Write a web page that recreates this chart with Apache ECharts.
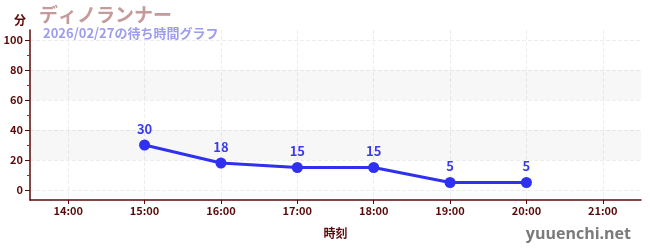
<!DOCTYPE html>
<html><head><meta charset="utf-8">
<script src="https://cdn.jsdelivr.net/npm/echarts@6/dist/echarts.min.js"></script>
<style>html,body{margin:0;padding:0;background:#fff}#c{width:650px;height:250px}</style>
</head><body><div id="c"></div>
<script>
const titleText = 'ディノランナー';
const subtitleText = '2026/02/27の待ち時間グラフ';
const hours = [15, 16, 17, 18, 19, 20];
const waits = [30, 18, 15, 15, 5, 5];
const xTicks = [14, 15, 16, 17, 18, 19, 20, 21];
const yTicks = [0, 20, 40, 60, 80, 100];
const yMinor = [10, 30, 50, 70, 90];

const FONT = '"Noto Sans CJK JP", "Noto Sans", sans-serif';
const AX = '#5a0a0a';
const YMIN = -20/3, YMAX = 320/3;
const chart = echarts.init(document.getElementById('c'), null, {renderer: 'canvas'});
chart.setOption({
  animation: false,
  textStyle: {fontFamily: FONT},
  title: [
    {text: titleText, left: 34, top: 0, textStyle: {color: '#c49a9a', fontSize: 19, fontWeight: 'bold', fontFamily: FONT}},
    {text: subtitleText, left: 38, top: 22, textStyle: {color: '#9d9dee', fontSize: 13, fontWeight: 'bold', fontFamily: FONT}},
    {text: 'yuuenchi.net', right: 14, bottom: 3, textStyle: {color: '#7a7a7a', fontSize: 16, fontWeight: 'bold', fontFamily: '"Open Sans", sans-serif'}}
  ],
  grid: {left: 30, right: 9, top: 30, bottom: 50, containLabel: false},
  xAxis: {
    type: 'value', min: 13.5, max: 21.5,
    name: '時刻', nameLocation: 'middle', nameGap: 27,
    nameTextStyle: {color: AX, fontSize: 12, fontWeight: 'bold'},
    axisLine: {show: true, onZero: false, lineStyle: {color: AX, width: 1.5}},
    axisTick: {show: true, customValues: xTicks, length: 4, lineStyle: {color: AX}},
    axisLabel: {customValues: xTicks, color: AX, fontSize: 11, fontWeight: 'bold', margin: 5, formatter: v => v + ':00'},
    splitLine: {show: true, customValues: xTicks, lineStyle: {color: '#eeeeee', type: 'dashed'}}
  },
  yAxis: [{
    type: 'value', min: YMIN, max: YMAX,
    name: '分', nameLocation: 'end', nameGap: 0,
    nameTextStyle: {color: AX, fontSize: 12, fontWeight: 'bold', align: 'right', verticalAlign: 'bottom', padding: [0, 4, 4, 0]},
    axisLine: {show: true, onZero: false, lineStyle: {color: AX, width: 1.5}},
    axisTick: {show: true, customValues: yTicks, length: 5, lineStyle: {color: AX}},
    axisLabel: {customValues: yTicks, color: AX, fontSize: 11, fontWeight: 'bold', margin: 7},
    splitLine: {show: true, customValues: yTicks, lineStyle: {color: '#eeeeee', type: 'dashed'}},
    splitArea: {show: false}
  }, {
    type: 'value', min: YMIN, max: YMAX, position: 'left',
    axisLine: {show: false, onZero: false},
    axisTick: {show: true, customValues: yMinor, length: 3, lineStyle: {color: '#d01010'}},
    axisLabel: {show: false},
    splitLine: {show: false}
  }],
  series: [{
    type: 'line',
    data: hours.map((h, i) => [h, waits[i]]),
    symbol: 'circle', symbolSize: 11,
    lineStyle: {color: '#3030f0', width: 3},
    itemStyle: {color: '#3030f0'},
    label: {show: true, position: 'top', color: '#3a3aee', fontSize: 13, fontWeight: 'bold', distance: 4},
    markArea: {silent: true, itemStyle: {color: 'rgba(0,0,0,0.03)'}, data: [
      [{yAxis: 20}, {yAxis: 40}],
      [{yAxis: 60}, {yAxis: 80}]
    ]}
  }]
});
</script></body></html>
